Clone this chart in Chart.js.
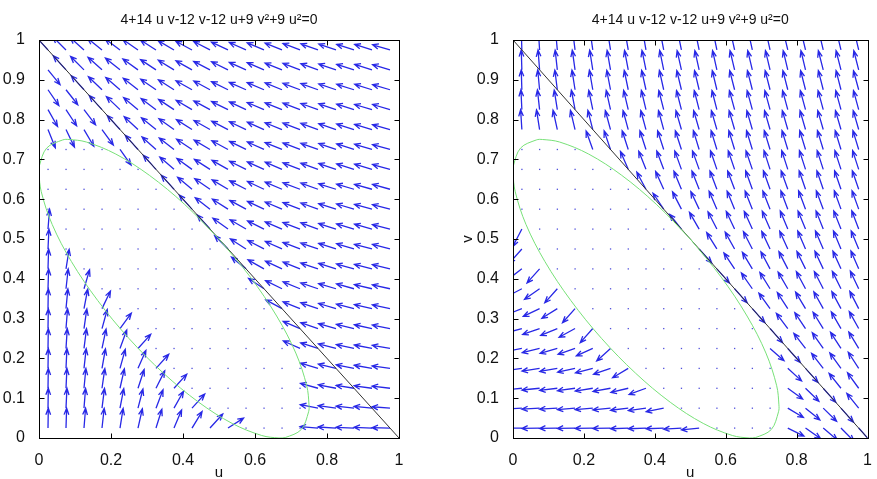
<!DOCTYPE html>
<html>
<head>
<meta charset="utf-8">
<script src="https://cdn.jsdelivr.net/npm/chart.js"></script>
<style>
html, body { margin: 0; padding: 0; background: #fff; }
#wrap { position: relative; width: 877px; height: 479px; }
#c1 { position: absolute; left: 0; top: 0; }
#c2 { position: absolute; left: 438px; top: 0; }
</style>
</head>
<body>
<div id="wrap">
  <canvas id="c1" width="438" height="479"></canvas>
  <canvas id="c2" width="439" height="479"></canvas>
</div>
<script>
// arrow tails, same grid on both plots
var gridU = [0.025,0.075,0.125,0.175,0.225,0.275,0.325,0.375,0.425,0.475,0.525,0.575,0.625,0.675,0.725,0.775,0.825,0.875,0.925,0.975];
var gridV = [0.025,0.075,0.125,0.175,0.225,0.275,0.325,0.375,0.425,0.475,0.525,0.575,0.625,0.675,0.725,0.775,0.825,0.875,0.925,0.975];
var _ = null; // zero vector (inside the ellipse) -> dot only

// arrow directions in degrees, one row per v value, bottom row first
var leftAngle = [
  [89,88,85,83,80,76,71,65,56,45,30,_,_,_,_,176,177,178,178,179],
  [89,87,85,82,78,74,67,58,45,_,_,_,_,_,_,170,173,174,175,176],
  [89,87,84,81,76,70,61,45,_,_,_,_,_,_,_,166,170,172,173,174],
  [89,87,83,79,73,64,45,_,_,_,_,_,_,_,_,165,168,170,171,173],
  [89,86,82,77,68,45,_,_,_,_,_,_,_,_,158,164,167,169,170,171],
  [89,85,81,73,51,_,_,_,_,_,_,_,_,_,159,163,166,168,169,170],
  [89,84,78,62,_,_,_,_,_,_,_,_,_,154,160,163,165,167,168,169],
  [88,83,72,_,_,_,_,_,_,_,_,_,149,156,160,163,165,166,168,169],
  [88,80,_,_,_,_,_,_,_,_,_,144,153,157,160,163,164,166,167,168],
  [87,_,_,_,_,_,_,_,_,_,138,150,155,158,161,163,164,165,167,167],
  [85,_,_,_,_,_,_,_,_,135,147,152,156,159,161,162,164,165,166,167],
  [_,_,_,_,_,_,_,_,135,145,150,154,157,159,161,162,164,165,166,167],
  [_,_,_,_,_,_,_,135,143,148,152,155,157,159,161,162,164,165,166,166],
  [_,_,_,_,_,_,135,142,147,150,153,156,158,159,161,162,163,164,165,166],
  [_,_,_,_,-52,135,141,145,149,152,154,156,158,160,161,162,163,164,165,166],
  [-66,-62,-57,-51,135,140,144,147,150,153,155,157,158,160,161,162,163,164,165,166],
  [-58,-54,-50,135,139,143,146,149,152,154,156,157,159,160,161,162,163,164,165,165],
  [-53,-49,135,139,142,145,148,150,153,154,156,158,159,160,161,162,163,164,164,165],
  [-48,135,138,141,144,147,149,151,153,155,156,158,159,160,161,162,163,164,164,165],
  [135,138,141,144,146,148,150,152,154,155,157,158,159,160,161,162,163,164,164,165]
];

var rightAngle = [
  [181,181,181,181,181,181,182,182,182,183,185,_,_,_,_,-24,-32,-37,-42,-45],
  [183,183,183,184,184,185,186,187,190,_,_,_,_,_,_,-28,-36,-41,-45,132],
  [185,185,186,187,188,189,192,198,_,_,_,_,_,_,_,-33,-41,-45,132,129],
  [187,188,189,191,193,197,208,_,_,_,_,_,_,_,_,-39,-45,131,129,126],
  [190,192,194,197,202,219,_,_,_,_,_,_,_,_,-38,-45,131,128,126,124],
  [194,197,200,206,225,_,_,_,_,_,_,_,_,_,-45,130,127,125,123,122],
  [199,203,209,225,_,_,_,_,_,_,_,_,_,-45,129,126,124,122,121,120],
  [205,212,225,_,_,_,_,_,_,_,_,_,-45,128,125,123,121,120,119,118],
  [214,225,_,_,_,_,_,_,_,_,_,-45,127,124,121,120,119,118,117,116],
  [225,_,_,_,_,_,_,_,_,_,-45,125,122,120,118,117,116,116,115,115],
  [240,_,_,_,_,_,_,_,_,132,123,120,118,117,116,115,115,114,114,113],
  [_,_,_,_,_,_,_,_,127,120,118,116,115,114,114,113,113,113,112,112],
  [_,_,_,_,_,_,_,121,117,115,114,113,113,112,112,112,111,111,111,111],
  [_,_,_,_,_,_,116,114,113,112,112,111,111,111,110,110,110,110,110,110],
  [_,_,_,_,112,111,110,110,110,110,109,109,109,109,109,109,109,109,109,109],
  [94,100,104,105,106,107,107,107,107,108,108,108,108,108,108,108,108,108,108,108],
  [93,97,100,102,103,104,105,105,106,106,106,106,107,107,107,107,107,107,107,107],
  [92,96,98,100,101,102,103,104,104,105,105,105,106,106,106,106,106,106,106,107],
  [92,95,97,99,100,101,102,103,103,104,104,104,105,105,105,105,105,106,106,106],
  [92,94,96,98,99,100,101,101,102,103,103,103,104,104,104,105,105,105,105,105]
];

// ellipse 4+14uv-12v-12u+9v^2+9u^2=0 (green)
var ellipseU = [0.5,0.4042,0.3065,0.2134,0.1313,0.0833,0.0659,0.0214,0.0011,0,0.0063,0.0366,0.0899,0.1628,0.25,0.3458,0.4435,0.5366,0.6187,0.6667,0.6841,0.7286,0.7489,0.75,0.7437,0.7134,0.6601,0.5872,0.5];
var ellipseV = [0.5,0.5872,0.6601,0.7134,0.7437,0.75,0.7489,0.7286,0.6841,0.6667,0.6187,0.5366,0.4435,0.3458,0.25,0.1628,0.0899,0.0366,0.0063,0,0.0011,0.0214,0.0659,0.0833,0.1313,0.2134,0.3065,0.4042,0.5];

// line u+v=1 (black)
var lineU = [0, 1];
var lineV = [1, 0];

var titleText = '4+14 u v-12 v-12 u+9 v\u00b2+9 u\u00b2=0';
var arrowLen = 0.05;

Chart.defaults.font.family = "'Liberation Sans', Arial, sans-serif";
Chart.defaults.font.size = 16;
Chart.defaults.color = '#111';

function toPoints(us, vs) {
  return us.map(function (u, k) { return { x: u, y: vs[k] }; });
}

// 0, 0.1 ... 1 like the original labels
function tickLabel(value) {
  return String(Math.round(value * 10) / 10);
}

// quiver arrows (MATLAB style head) drawn through the chart scales
function makeQuiver(angles) {
  return {
    id: 'quiver',
    beforeDatasetsDraw: function (chart) {
      var ctx = chart.ctx, a = chart.chartArea;
      var xs = chart.scales.x, ys = chart.scales.y;
      ctx.save();
      ctx.beginPath();
      ctx.rect(a.left, a.top, a.right - a.left, a.bottom - a.top);
      ctx.clip();
      ctx.strokeStyle = 'rgb(40,40,230)';
      ctx.fillStyle = 'rgb(80,80,220)';
      ctx.lineWidth = 1.3;
      for (var j = 0; j < gridV.length; j++) {
        for (var i = 0; i < gridU.length; i++) {
          var u = gridU[i], v = gridV[j], th = angles[j][i];
          var px = xs.getPixelForValue(u), py = ys.getPixelForValue(v);
          if (th === null) {
            ctx.fillRect(px - 0.6, py - 0.6, 1.3, 1.3);
            continue;
          }
          var du = arrowLen * Math.cos(th * Math.PI / 180);
          var dv = arrowLen * Math.sin(th * Math.PI / 180);
          var tu = u + du, tv = v + dv;
          var al = 0.33, be = 0.4;
          var tx = xs.getPixelForValue(tu), ty = ys.getPixelForValue(tv);
          ctx.beginPath();
          ctx.moveTo(px, py);
          ctx.lineTo(tx, ty);
          ctx.moveTo(xs.getPixelForValue(tu - al * (du + be * dv)), ys.getPixelForValue(tv - al * (dv - be * du)));
          ctx.lineTo(tx, ty);
          ctx.lineTo(xs.getPixelForValue(tu - al * (du - be * dv)), ys.getPixelForValue(tv - al * (dv + be * du)));
          ctx.stroke();
        }
      }
      ctx.restore();
    }
  };
}

// box and inward tick marks
var framePlugin = {
  id: 'frame',
  afterDraw: function (chart) {
    var ctx = chart.ctx, a = chart.chartArea;
    var xs = chart.scales.x, ys = chart.scales.y;
    var L = Math.round(a.left) + 0.5, R = Math.round(a.right) + 0.5;
    var T = Math.round(a.top) + 0.5, B = Math.round(a.bottom) + 0.5;
    ctx.save();
    ctx.strokeStyle = '#000';
    ctx.lineWidth = 1;
    ctx.strokeRect(L, T, R - L, B - T);
    ctx.beginPath();
    xs.ticks.forEach(function (t) {
      var p = Math.round(xs.getPixelForValue(t.value)) + 0.5;
      ctx.moveTo(p, B); ctx.lineTo(p, B - 5);
      ctx.moveTo(p, T); ctx.lineTo(p, T + 5);
    });
    ys.ticks.forEach(function (t) {
      var p = Math.round(ys.getPixelForValue(t.value)) + 0.5;
      ctx.moveTo(L, p); ctx.lineTo(L + 5, p);
      ctx.moveTo(R, p); ctx.lineTo(R - 5, p);
    });
    ctx.stroke();
    ctx.restore();
  }
};

function makeChart(id, angles, yWidth, padRight, yTitle) {
  return new Chart(document.getElementById(id), {
    type: 'scatter',
    data: {
      datasets: [
        {
          data: toPoints(ellipseU, ellipseV),
          showLine: true,
          borderColor: 'rgb(120,225,120)',
          borderWidth: 1,
          pointRadius: 0,
          tension: 0.35,
          fill: false
        },
        {
          data: toPoints(lineU, lineV),
          showLine: true,
          borderColor: 'rgb(50,50,50)',
          borderWidth: 1,
          pointRadius: 0,
          fill: false
        }
      ]
    },
    options: {
      responsive: false,
      animation: false,
      devicePixelRatio: 1,
      events: [],
      layout: { padding: { left: 0, right: padRight, top: 0, bottom: 0 } },
      plugins: {
        legend: { display: false },
        tooltip: { enabled: false },
        title: {
          display: true,
          text: titleText,
          fullSize: false,
          color: '#111',
          font: { size: 14, weight: 'normal' },
          padding: { top: 12, bottom: 11.2 }
        }
      },
      scales: {
        x: {
          type: 'linear',
          min: 0,
          max: 1,
          ticks: { stepSize: 0.2, padding: 5, maxRotation: 0, autoSkip: false, callback: tickLabel },
          grid: { display: false },
          border: { display: false },
          title: { display: true, text: 'u', font: { size: 15 }, padding: { top: 0, bottom: -3 } },
          afterFit: function (s) { s.height = 41; }
        },
        y: {
          type: 'linear',
          min: 0,
          max: 1,
          ticks: { stepSize: 0.1, padding: 6, autoSkip: false, callback: tickLabel },
          grid: { display: false },
          border: { display: false },
          title: { display: !!yTitle, text: yTitle || '', font: { size: 15 }, padding: { top: 21, bottom: 0 } },
          afterFit: function (s) { s.width = yWidth; }
        }
      }
    },
    plugins: [makeQuiver(angles), framePlugin]
  });
}

var leftChart = makeChart('c1', leftAngle, 39, 39, '');
var rightChart = makeChart('c2', rightAngle, 75, 4, 'v');
</script>
</body>
</html>
